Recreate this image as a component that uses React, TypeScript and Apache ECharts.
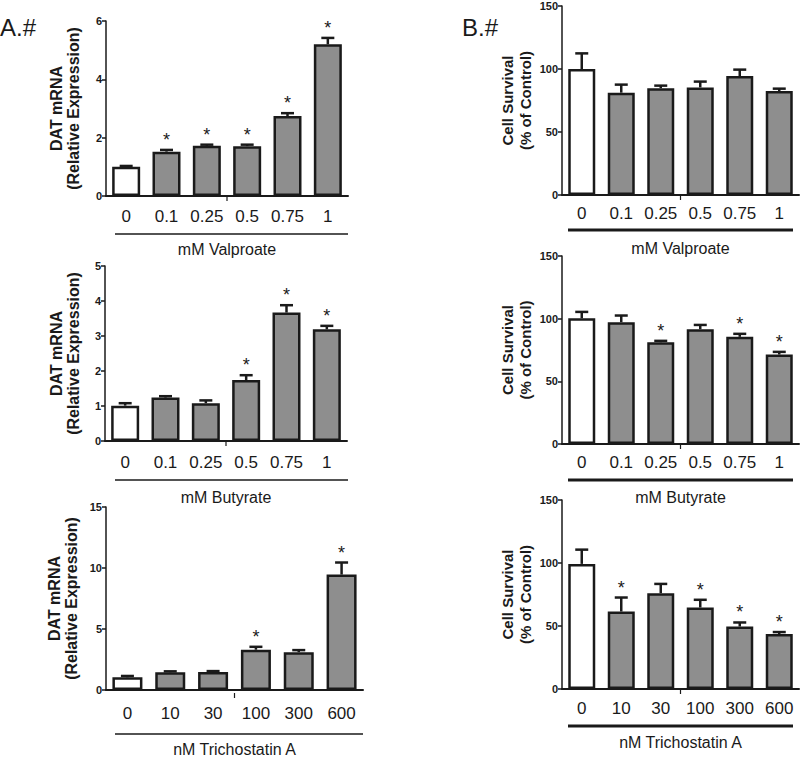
import React, { useEffect, useRef } from "react";
import * as echarts from "echarts";

// ---------- data ----------
const mMCats = ["0", "0.1", "0.25", "0.5", "0.75", "1"];
const nMCats = ["0", "10", "30", "100", "300", "600"];

const valproateDAT = [1.0, 1.52, 1.72, 1.71, 2.74, 5.2];
const valproateDATErr = [0.03, 0.06, 0.04, 0.05, 0.1, 0.22];
const valproateDATStar = [0, 1, 1, 1, 1, 1];

const butyrateDAT = [1.01, 1.24, 1.08, 1.74, 3.67, 3.19];
const butyrateDATErr = [0.07, 0.04, 0.08, 0.14, 0.21, 0.1];
const butyrateDATStar = [0, 0, 0, 1, 1, 1];

const tsaDAT = [1.04, 1.45, 1.47, 3.3, 3.1, 9.46];
const tsaDATErr = [0.11, 0.08, 0.08, 0.24, 0.17, 0.99];
const tsaDATStar = [0, 0, 0, 1, 0, 1];

const valproateSurv = [100, 81.2, 84.7, 85.4, 94.4, 82.5];
const valproateSurvErr = [12.4, 6.4, 2.1, 4.6, 5.1, 1.9];
const valproateSurvStar = [0, 0, 0, 0, 0, 0];

const butyrateSurv = [100.3, 97.2, 81.2, 91.6, 85.5, 71.4];
const butyrateSurvErr = [5.1, 5.3, 1.1, 3.4, 2.4, 2.1];
const butyrateSurvStar = [0, 0, 1, 0, 1, 1];

const tsaSurv = [99.3, 61.5, 76, 64.7, 49.6, 43.6];
const tsaSurvErr = [11.3, 11.1, 7.4, 6.1, 3.2, 1.6];
const tsaSurvStar = [0, 1, 0, 1, 1, 1];

const datTicks = { v: [0, 6, 2], b: [0, 5, 1], t: [0, 15, 5] };
const survTicks = [0, 150, 50];

// ---------- styling ----------
const FONT = "'Liberation Sans Narrow', 'Liberation Sans', Arial, sans-serif";
const FONT_B = "'Liberation Sans', Arial, sans-serif";
const INK = "#1a1a1a";
const GRAY = "#8e8e8e";

type Panel = {
  grid: { left: number; top: number; width: number; height: number };
  cats: string[];
  vals: number[];
  errs: number[];
  stars: number[];
  ticks: number[];
  yName: string;
  yNameGap: number;
  yLineHeight: number;
  yNameSize: number;
  xName: string;
  xNameGap: number;
  labelMargin: number;
  barWidth: number;
};

const panels: Panel[] = [
  { grid: { left: 106, top: 21, width: 242, height: 175 }, cats: mMCats, vals: valproateDAT, errs: valproateDATErr, stars: valproateDATStar, ticks: datTicks.v, yName: "DAT mRNA\n(Relative Expression)", yNameGap: 24, yLineHeight: 17, yNameSize: 16, xName: "mM Valproate", xNameGap: 45, labelMargin: 12, barWidth: 28 },
  { grid: { left: 105, top: 266, width: 242, height: 175 }, cats: mMCats, vals: butyrateDAT, errs: butyrateDATErr, stars: butyrateDATStar, ticks: datTicks.b, yName: "DAT mRNA\n(Relative Expression)", yNameGap: 23, yLineHeight: 17, yNameSize: 16, xName: "mM Butyrate", xNameGap: 48, labelMargin: 13, barWidth: 28 },
  { grid: { left: 106, top: 507, width: 257, height: 186 }, cats: nMCats, vals: tsaDAT, errs: tsaDATErr, stars: tsaDATStar, ticks: datTicks.t, yName: "DAT mRNA\n(Relative Expression)", yNameGap: 26, yLineHeight: 17, yNameSize: 16, xName: "nM Trichostatin A", xNameGap: 51, labelMargin: 15, barWidth: 30 },
  { grid: { left: 562, top: 6, width: 237, height: 189 }, cats: mMCats, vals: valproateSurv, errs: valproateSurvErr, stars: valproateSurvStar, ticks: survTicks, yName: "Cell Survival\n(% of Control)", yNameGap: 28, yLineHeight: 18, yNameSize: 15, xName: "mM Valproate", xNameGap: 45, labelMargin: 10, barWidth: 27 },
  { grid: { left: 562, top: 256, width: 237, height: 188 }, cats: mMCats, vals: butyrateSurv, errs: butyrateSurvErr, stars: butyrateSurvStar, ticks: survTicks, yName: "Cell Survival\n(% of Control)", yNameGap: 28, yLineHeight: 18, yNameSize: 15, xName: "mM Butyrate", xNameGap: 45, labelMargin: 10, barWidth: 27 },
  { grid: { left: 562, top: 500, width: 237, height: 189 }, cats: nMCats, vals: tsaSurv, errs: tsaSurvErr, stars: tsaSurvStar, ticks: survTicks, yName: "Cell Survival\n(% of Control)", yNameGap: 28, yLineHeight: 18, yNameSize: 15, xName: "nM Trichostatin A", xNameGap: 45, labelMargin: 11, barWidth: 27 },
];

// underline bars below the category labels: [x1, x2, y, width]
const underlines: number[][] = [
  [115, 348, 234, 1.5],
  [115, 348, 480, 1.5],
  [115, 363, 734, 1.5],
  [568, 793, 230, 3],
  [568, 793, 480, 3],
  [568, 793, 726, 3],
];

export default function App() {
  const ref = useRef<HTMLDivElement>(null);
  useEffect(() => {
    document.body.style.margin = "0";
    if (!ref.current) return;
    const chart = echarts.init(ref.current, undefined, { renderer: "svg" });

    const grids: any[] = [];
    const xAxes: any[] = [];
    const yAxes: any[] = [];
    const series: any[] = [];
    const graphics: any[] = [];

    panels.forEach((p, i) => {
      grids.push({ ...p.grid, containLabel: false });
      xAxes.push({
        type: "category",
        gridIndex: i,
        data: p.cats,
        axisLine: { lineStyle: { color: INK, width: 2 } },
        axisTick: { show: false },
        axisLabel: { color: INK, fontSize: 17, fontFamily: FONT, margin: p.labelMargin, interval: 0 },
        name: p.xName,
        nameLocation: "middle",
        nameGap: p.xNameGap,
        nameTextStyle: { color: INK, fontSize: 16, fontFamily: FONT },
      });
      yAxes.push({
        type: "value",
        gridIndex: i,
        min: p.ticks[0],
        max: p.ticks[1],
        interval: p.ticks[2],
        splitLine: { show: false },
        axisLine: { show: true, lineStyle: { color: INK, width: 1.5 } },
        axisTick: { show: true, length: 4, lineStyle: { color: INK, width: 1.5 } },
        axisLabel: { color: INK, fontSize: 11, fontWeight: "bold", fontFamily: FONT_B, margin: 4 },
        name: p.yName,
        nameLocation: "middle",
        nameRotate: 90,
        nameGap: p.yNameGap,
        nameTextStyle: { color: INK, fontSize: p.yNameSize, fontWeight: "bold", fontFamily: FONT_B, lineHeight: p.yLineHeight, align: "center" },
      });
      series.push({
        type: "bar",
        xAxisIndex: i,
        yAxisIndex: i,
        barWidth: p.barWidth,
        data: p.vals.map((v, k) => ({
          value: v,
          itemStyle: { color: k === 0 ? "#ffffff" : GRAY, borderColor: INK, borderWidth: 2.5 },
        })),
        z: 2,
      });
      series.push({
        type: "custom",
        xAxisIndex: i,
        yAxisIndex: i,
        z: 3,
        data: p.vals.map((v, k) => [k, v, p.errs[k], p.stars[k]]),
        renderItem: (params: any, api: any) => {
          const x = api.value(0);
          const m = api.value(1);
          const e = api.value(2);
          const s = api.value(3);
          const base = api.coord([x, m]);
          const top = api.coord([x, m + e]);
          const half = 6.5;
          const children: any[] = [
            { type: "line", shape: { x1: base[0], y1: base[1], x2: top[0], y2: top[1] }, style: { stroke: INK, lineWidth: 2.5 } },
            { type: "line", shape: { x1: top[0] - half, y1: top[1], x2: top[0] + half, y2: top[1] }, style: { stroke: INK, lineWidth: 2.5 } },
          ];
          if (s) {
            children.push({
              type: "text",
              style: { text: "*", x: top[0], y: top[1] - 10, fill: INK, fontSize: 18, fontFamily: FONT_B, align: "center", verticalAlign: "middle" },
            });
          }
          return { type: "group", children };
        },
      });
      // small centre tick below x axis
      const cx = p.grid.left + p.grid.width / 2;
      const ay = p.grid.top + p.grid.height;
      graphics.push({ type: "line", shape: { x1: cx, y1: ay, x2: cx, y2: ay + 5 }, style: { stroke: INK, lineWidth: 1.2 } });
    });

    underlines.forEach(([x1, x2, y, w]) => {
      graphics.push({ type: "line", shape: { x1, y1: y, x2, y2: y }, style: { stroke: INK, lineWidth: w } });
    });
    graphics.push({ type: "text", left: 0, top: 15, style: { text: "A.#", fontSize: 24, fontFamily: FONT, fill: INK } });
    graphics.push({ type: "text", left: 462, top: 15, style: { text: "B.#", fontSize: 24, fontFamily: FONT, fill: INK } });

    chart.setOption({
      animation: false,
      backgroundColor: "#ffffff",
      grid: grids,
      xAxis: xAxes,
      yAxis: yAxes,
      series,
      graphic: graphics,
    });
    return () => chart.dispose();
  }, []);
  return <div ref={ref} style={{ width: 800, height: 758, position: "absolute", left: 0, top: 0 }} />;
}
